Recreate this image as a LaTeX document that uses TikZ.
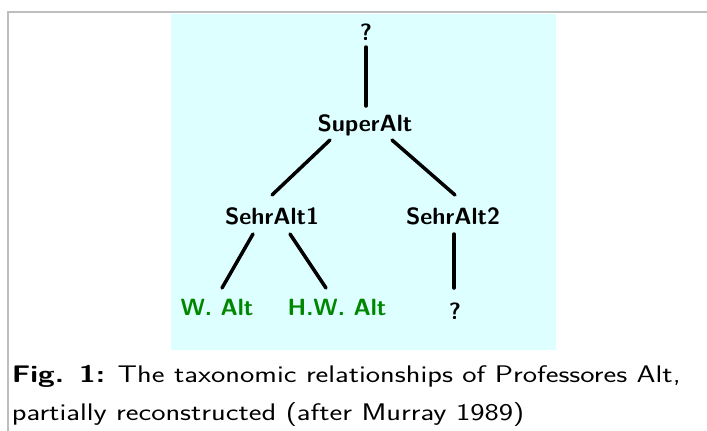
\documentclass[tikz,border=0pt]{standalone}
\usepackage{fontspec}
\usepackage{graphicx}
\definecolor{bgcyan}{RGB}{222,255,255}
\definecolor{framegray}{RGB}{190,190,190}
\definecolor{altgreen}{RGB}{0,135,0}
\newcommand{\widetxt}[2]{\scalebox{#1}[1]{#2}}
\tikzset{
  taxon/.style={anchor=base, inner sep=0pt, font=\fontsize{23.5}{28}\selectfont\sffamily\bfseries},
  living/.style={taxon, text=altgreen},
  branch/.style={line width=3.5pt, line cap=round, black},
  captionline/.style={anchor=base west, inner sep=0pt, font=\fontsize{24}{28}\selectfont\sffamily}
}
\begin{document}
\begin{tikzpicture}[x=1pt,y=-1pt]
\useasboundingbox (0,0) rectangle (707,431);
\fill[white] (0,0) rectangle (707,431);
\draw[framegray, line width=2.5pt] (8,431) -- (8,12) -- (707,12);
\fill[bgcyan] (171,14) rectangle (556,350);

\node[taxon] (q1) at (366,40) {?};
\node[taxon] (super) at (365,131) {SuperAlt};
\node[taxon] (sehr1) at (272,224) {SehrAlt1};
\node[taxon] (sehr2) at (453,224) {SehrAlt2};
\node[living] (walt) at (217,315) {W. Alt};
\node[living] (hwalt) at (337,315) {H.W. Alt};
\node[taxon] (q2) at (455,319) {?};

\draw[branch] ([shift={(0,7)}]q1.base) -- ([shift={(1,-25)}]super.base);
\draw[branch] ([shift={(-35,9)}]super.base) -- ([shift={(0,-29)}]sehr1.base);
\draw[branch] ([shift={(27,9)}]super.base) -- ([shift={(2,-29)}]sehr2.base);
\draw[branch] ([shift={(-19,10)}]sehr1.base) -- ([shift={(5,-27)}]walt.base);
\draw[branch] ([shift={(18,10)}]sehr1.base) -- ([shift={(-11,-27)}]hwalt.base);
\draw[branch] ([shift={(1,10)}]sehr2.base) -- ([shift={(-1,-31)}]q2.base);

\node[captionline] (cap1) at (11.7,382) {\widetxt{1.265}{\textbf{Fig. 1:} The taxonomic relationships of Professores Alt,}};
\node[captionline] (cap2) at (11.7,420) {\widetxt{1.265}{partially reconstructed (after Murray 1989)}};
\end{tikzpicture}
\end{document}
